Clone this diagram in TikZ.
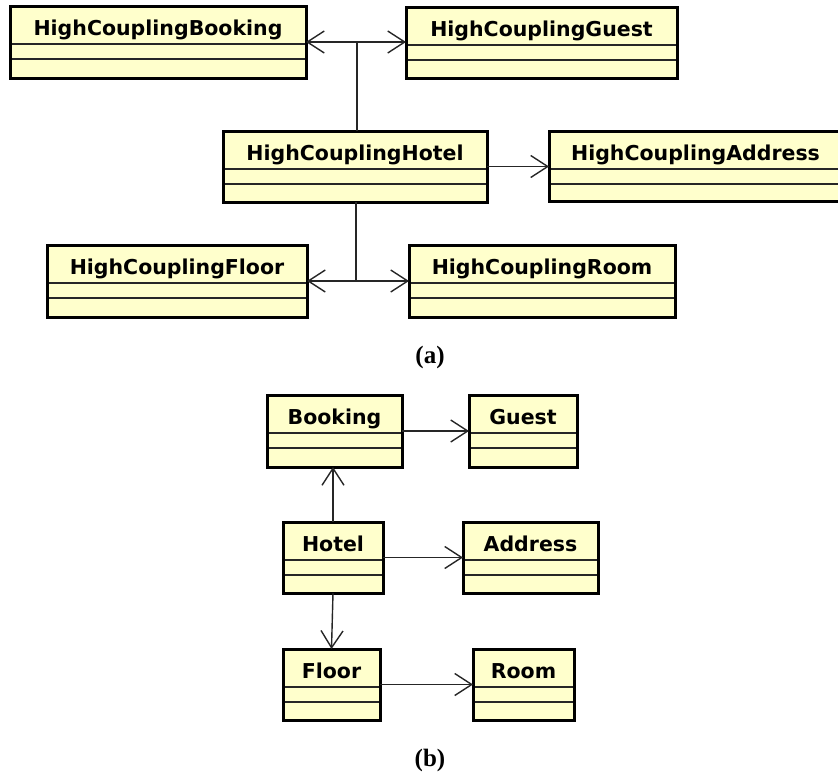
\documentclass[tikz,border=0pt]{standalone}
\usepackage{fontspec}
\newfontfamily\umlfont{DejaVu Sans}
\newfontfamily\capfont{Liberation Serif}
\usetikzlibrary{arrows.meta}

\definecolor{classfill}{RGB}{255,255,204}

\tikzset{
  classframe/.style={draw=black, fill=classfill, line width=3pt,
    inner sep=0pt, outer sep=0pt},
  classtitle/.style={font=\umlfont\bfseries\fontsize{20.5}{22}\selectfont,
    inner sep=0pt, anchor=base},
  compline/.style={draw=black!85, line width=1.4pt},
  assoc/.style={draw=black!85, line width=1.4pt,
    -{Straight Barb[length=17pt, width=22pt, line width=1.4pt]}},
  plainlink/.style={draw=black!85, line width=1.4pt},
  caption/.style={font=\capfont\bfseries\fontsize{25}{27}\selectfont, inner sep=0pt}
}

% class box: name, left, top, right, bottom, title
\newcommand\classbox[6]{%
  \node[classframe, minimum width={#4-#2}, minimum height={#5-#3}]
    (#1) at ({(#2+#4)/2},{(#3+#5)/2}) {};
  \draw[compline] ([yshift=-38pt]#1.north west) -- ([yshift=-38pt]#1.north east);
  \draw[compline] ([yshift=-53pt]#1.north west) -- ([yshift=-53pt]#1.north east);
  \draw[line width=3pt] (#1.north west) rectangle (#1.south east);
  \node[classtitle] (#1-title) at ([yshift=-29pt]#1.north) {#6};
}

\begin{document}
\begin{tikzpicture}[x=1pt, y=-1pt]
  \useasboundingbox (0,0) rectangle (838,780);

  % (a) strongly coupled design
  \classbox{hcBooking}{10}{6}{306}{78}{HighCouplingBooking}
  \classbox{hcGuest}{406}{7}{677}{78}{HighCouplingGuest}
  \classbox{hcHotel}{223}{131}{487}{202}{HighCouplingHotel}
  \classbox{hcAddress}{549}{131}{842}{201}{HighCouplingAddress}
  \classbox{hcFloor}{47}{245}{307}{317}{HighCouplingFloor}
  \classbox{hcRoom}{409}{245}{675}{317}{HighCouplingRoom}

  \coordinate (jtop) at ([xshift=2pt]hcHotel.north |- hcBooking.east);
  \coordinate (jbot) at ([xshift=1pt]hcHotel.south |- hcFloor.east);
  \draw[plainlink] ([xshift=2pt]hcHotel.north) -- (jtop);
  \draw[assoc] (jtop) -- (hcBooking.east);
  \draw[assoc] (jtop) -- (jtop -| hcGuest.west);
  \draw[assoc] (hcHotel.east) -- (hcHotel.east -| hcAddress.west);
  \draw[plainlink] ([xshift=1pt]hcHotel.south) -- (jbot);
  \draw[assoc] (jbot) -- (hcFloor.east);
  \draw[assoc] (jbot) -- (jbot -| hcRoom.west);

  \node[caption] (capA) at (430,357) {(a)};

  % (b) reduced coupling
  \classbox{booking}{267}{395}{402}{467}{Booking}
  \classbox{guest}{469}{395}{577}{467}{Guest}
  \classbox{hotel}{283}{522}{383}{593}{Hotel}
  \classbox{address}{463}{522}{598}{593}{Address}
  \classbox{floor}{283}{649}{380}{720}{Floor}
  \classbox{room}{473}{649}{574}{720}{Room}

  \draw[assoc] (hotel.north) -- (hotel.north |- booking.south);
  \draw[assoc] (booking.east) -- (booking.east -| guest.west);
  \draw[assoc] (hotel.east) -- (hotel.east -| address.west);
  \draw[assoc] (hotel.south) -- (floor.north);
  \draw[assoc] (floor.east) -- (floor.east -| room.west);

  \node[caption] (capB) at (430,760) {(b)};
\end{tikzpicture}
\end{document}
